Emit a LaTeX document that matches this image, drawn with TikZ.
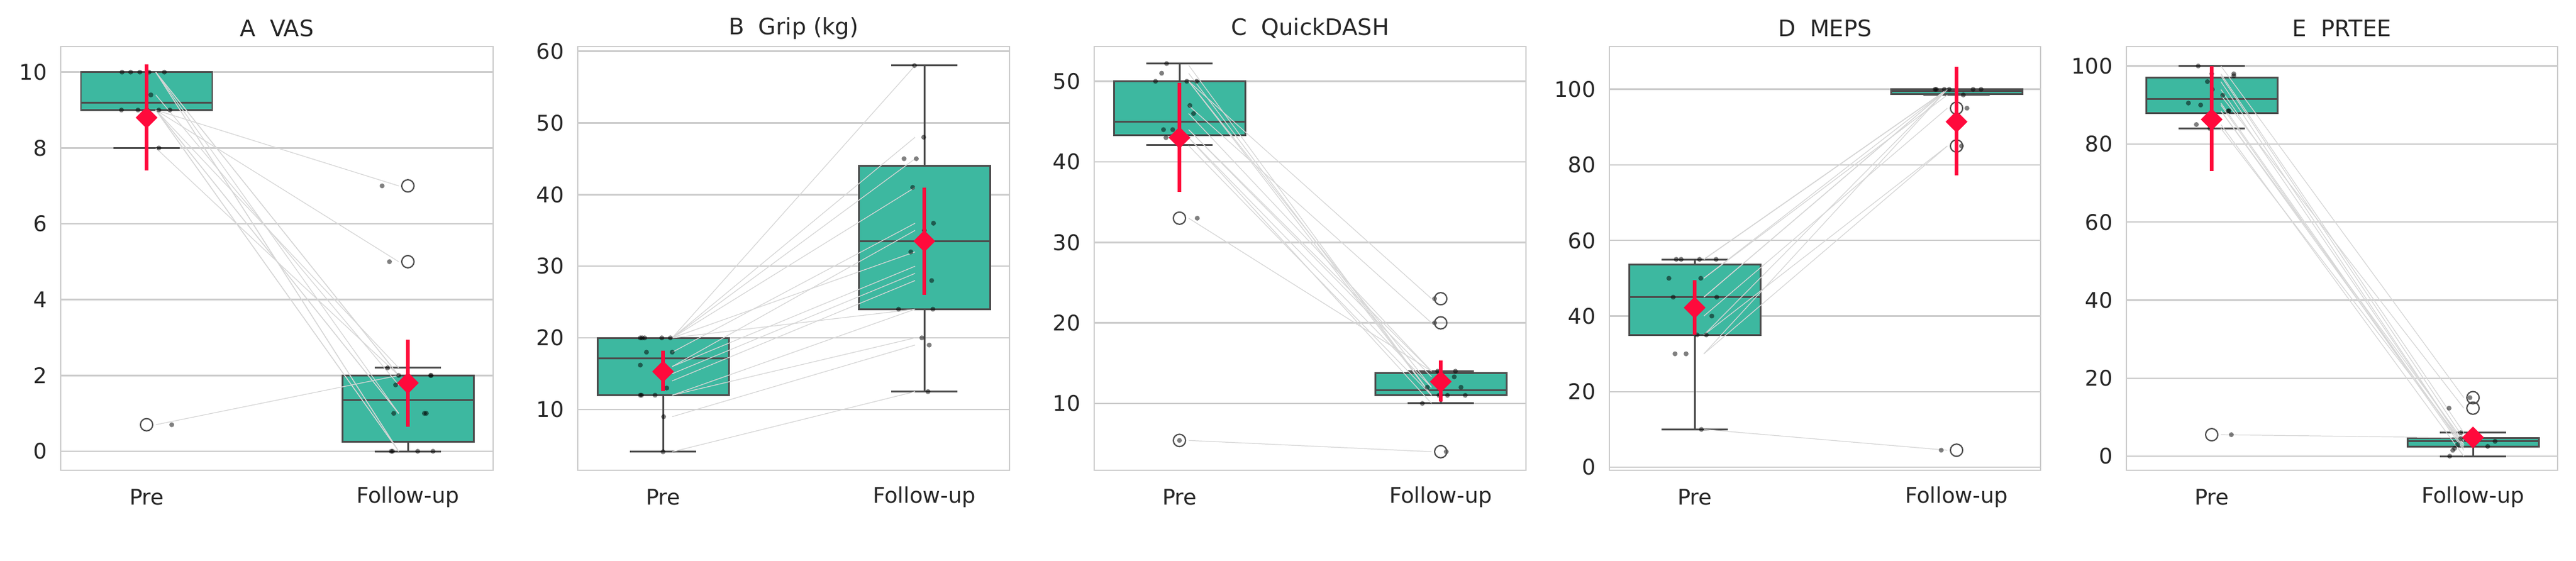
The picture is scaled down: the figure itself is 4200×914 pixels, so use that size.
\documentclass[tikz,border=0pt]{standalone}
\usepackage{fontspec}
\setmainfont{DejaVu Sans}
\usetikzlibrary{shapes.geometric}
\definecolor{myteal}{HTML}{3DB8A0}
\definecolor{edgec}{HTML}{4D4D4D}
\definecolor{gridc}{HTML}{CCCCCC}
\definecolor{redc}{HTML}{FF0A3C}
\definecolor{pairc}{HTML}{D6D6D6}
\tikzset{
  frame/.style={draw=gridc,line width=0.8pt},
  grid/.style={draw=gridc,line width=0.7pt},
  boxs/.style={fill=myteal,draw=edgec,line width=0.85pt},
  edge/.style={draw=edgec,line width=0.85pt},
  pair/.style={draw=pairc,line width=0.35pt},
  pt/.style={fill=black,opacity=0.5},
  outl/.style={draw=edgec,line width=0.6pt},
  ebar/.style={draw=redc,line width=1.5pt},
  mean/.style={diamond,fill=redc,inner sep=0pt,minimum width=0.36cm,minimum height=0.36cm},
  ttl/.style={font=\fontsize{10.5}{12}\selectfont,text=black!85},
  xl/.style={font=\fontsize{10}{12}\selectfont,text=black!85},
  yl/.style={font=\fontsize{10}{12}\selectfont,text=black!85,anchor=east},
}
\newcommand\mybox[6]{%
  \draw[boxs] (#1-107,#3) rectangle (#1+107,#5);
  \draw[edge] (#1-107,#4) -- (#1+107,#4);
  \draw[edge] (#1,#3) -- (#1,#2) (#1-54,#2) -- (#1+54,#2);
  \draw[edge] (#1,#5) -- (#1,#6) (#1-54,#6) -- (#1+54,#6);}
\begin{document}
\begin{tikzpicture}[x=0.01cm,y=-0.01cm]
\useasboundingbox (0,0) rectangle (4200,914);
% ---------------- A
\def\L{99}\def\R{804}\def\P{239}\def\F{665}
\draw[frame] (\L,76) rectangle (\R,767);
\node[ttl] (tA) at ({(\L+\R)/2},46) {A\ \ VAS};
\node[xl] (a1) at (\P,811) {Pre};
\node[xl] (a2) at (\F,811) {Follow-up};
\begin{scope}[shift={(0,736)},y=0.618cm]
\foreach \v in {0,2,...,10} {\draw[grid] (\L,\v) -- (\R,\v); \node[yl] (ya\v) at (\L-10,\v) {\v};}
\mybox{\P}{8}{9}{9.2}{10}{10}
\mybox{\F}{0}{0.25}{1.35}{2}{2.2}
\foreach \a/\b in {10/2,10/2,10/1,10/0,10/0,9.4/1.75,9/7,9/5,9/2.2,9/1,9/0,9/1,9/0,8/2,0.7/2}
  \draw[pair] (\P+15,\a) -- (\F-15,\b);
\foreach \v/\o in {10/-40,10/-26,10/-11,10/4,10/29,9.4/7,9/-41,9/-14,9/1,9/20,9/38,8/20,0.7/41}
  \fill[pt] (\P+\o,\v) circle (0.04cm);
\foreach \v/\o in {7/-42,5/-30,2.2/-33,2/-15,2/37,2/38,1.75/-20,1/-23,1/27,1/30,0/-27,0/-25,0/16,0/41}
  \fill[pt] (\F+\o,\v) circle (0.04cm);
\draw[outl] (\P,0.7) circle (0.1cm) (\F,7) circle (0.1cm) (\F,5) circle (0.1cm);
\draw[ebar] (\P,7.4) -- (\P,10.2) (\F,0.65) -- (\F,2.95);
\node[mean] (ma1) at (\P,8.8) {}; \node[mean] (ma2) at (\F,1.8) {};
\end{scope}
% ---------------- B
\def\L{942}\def\R{1646}\def\P{1081}\def\F{1507}
\draw[frame] (\L,76) rectangle (\R,767);
\node[ttl] (tB) at ({(\L+\R)/2},46) {B\ \ Grip (kg)};
\node[xl] (b1) at (\P,811) {Pre};
\node[xl] (b2) at (\F,811) {Follow-up};
\begin{scope}[shift={(0,784.8)},y=0.1168cm]
\foreach \v in {10,20,...,60} {\draw[grid] (\L,\v) -- (\R,\v); \node[yl] (yb\v) at (\L-10,\v) {\v};}
\mybox{\P}{4.1}{12}{17.1}{20}{20}
\mybox{\F}{12.5}{24}{33.5}{44}{58}
\foreach \a/\b in {20/58,20/48,20/45,20/41,18/36,16/35,20/32,16/30,15/29,14/28,20/24,12/24,12/20,9/19,4.1/12.5}
  \draw[pair] (\P+15,\a) -- (\F-15,\b);
\foreach \v/\o in {20/-37,20/-34,20/-30,20/-2,20/12,18/-27,18/15,16.2/-37,13/6,12/-37,12/-35,12/-13,9/1,4.1/0}
  \fill[pt] (\P+\o,\v) circle (0.04cm);
\foreach \v/\o in {58/-16,48/-1,45/-33,45/-13,41/-19,36/15,35/0,32/-22,28/12,24/-42,24/14,20/-4,19/8,12.5/6}
  \fill[pt] (\F+\o,\v) circle (0.04cm);
\draw[ebar] (\P,12.6) -- (\P,18.2) (\F,26) -- (\F,41);
\node[mean] (mb1) at (\P,15.3) {}; \node[mean] (mb2) at (\F,33.5) {};
\end{scope}
% ---------------- C
\def\L{1784}\def\R{2488}\def\P{1923}\def\F{2349}
\draw[frame] (\L,76) rectangle (\R,767);
\node[ttl] (tC) at ({(\L+\R)/2},46) {C\ \ QuickDASH};
\node[xl] (c1) at (\P,811) {Pre};
\node[xl] (c2) at (\F,811) {Follow-up};
\begin{scope}[shift={(0,789.25)},y=0.13125cm]
\foreach \v in {10,20,...,50} {\draw[grid] (\L,\v) -- (\R,\v); \node[yl] (yc\v) at (\L-10,\v) {\v};}
\mybox{\P}{42.1}{43.3}{45}{50}{52.2}
\mybox{\F}{10}{11}{11.6}{13.8}{14}
\foreach \a/\b in {50/23,47/20,46/14,44/14,44/13.3,50/12,43/12,42/11,52/11,51/11,50/11,43/10,33/14,5.4/4}
  \draw[pair] (\P+15,\a) -- (\F-15,\b);
\foreach \v/\o in {52.2/-21,51/-29,50/-39,50/12,50/28,47/17,46/23,44/-26,44/-11,43/-22,42/0,33/29,5.4/0}
  \fill[pt] (\P+\o,\v) circle (0.04cm);
\foreach \v/\o in {23/-10,20/-10,14/-5,14/24,13.3/22,12/-22,12/33,11/-3,11/0,11/11,11/40,10/-30,4/9}
  \fill[pt] (\F+\o,\v) circle (0.04cm);
\draw[outl] (\P,33) circle (0.1cm) (\P,5.4) circle (0.1cm) (\F,23) circle (0.1cm) (\F,20) circle (0.1cm) (\F,4) circle (0.1cm);
\draw[ebar] (\P,36.3) -- (\P,49.8) (\F,10.2) -- (\F,15.3);
\node[mean] (mc1) at (\P,43) {}; \node[mean] (mc2) at (\F,12.7) {};
\end{scope}
% ---------------- D
\def\L{2624}\def\R{3327}\def\P{2763}\def\F{3190}
\draw[frame] (\L,76) rectangle (\R,767);
\node[ttl] (tD) at ({(\L+\R)/2},46) {D\ \ MEPS};
\node[xl] (d1) at (\P,811) {Pre};
\node[xl] (d2) at (\F,811) {Follow-up};
\begin{scope}[shift={(0,762)},y=0.0616cm]
\foreach \v in {0,20,...,100} {\draw[grid] (\L,\v) -- (\R,\v); \node[yl] (yd\v) at (\L-10,\v) {\v};}
\mybox{\P}{10}{35}{45}{53.7}{55}
\mybox{\F}{98.5}{98.7}{99.5}{100}{100}
\foreach \a/\b in {55/100,55/100,55/100,50/100,50/98.5,45/100,45/100,40/95,35/100,35/85,30/100,30/85,10/4.5}
  \draw[pair] (\P+15,\a) -- (\F-15,\b);
\foreach \v/\o in {55/-30,55/-22,55/8,55/35,50/-42,50/10,45/-35,45/36,40/28,35/4,35/19,30/-32,30/-14,10/11}
  \fill[pt] (\P+\o,\v) circle (0.04cm);
\foreach \v/\o in {100/-35,100/-33,100/-20,100/-12,100/27,100/40,98.5/11,95/17,85/8,4.5/-25}
  \fill[pt] (\F+\o,\v) circle (0.04cm);
\draw[outl] (\F,95) circle (0.1cm) (\F,85) circle (0.1cm) (\F,4.5) circle (0.1cm);
\draw[ebar] (\P,35) -- (\P,49.5) (\F,77.3) -- (\F,106);
\node[mean] (md1) at (\P,42.2) {}; \node[mean] (md2) at (\F,91.4) {};
\end{scope}
% ---------------- E
\def\L{3467}\def\R{4170}\def\P{3606}\def\F{4032}
\draw[frame] (\L,76) rectangle (\R,767);
\node[ttl] (tE) at ({(\L+\R)/2},46) {E\ \ PRTEE};
\node[xl] (e1) at (\P,811) {Pre};
\node[xl] (e2) at (\F,811) {Follow-up};
\begin{scope}[shift={(0,744)},y=0.0636cm]
\foreach \v in {0,20,...,100} {\draw[grid] (\L,\v) -- (\R,\v); \node[yl] (ye\v) at (\L-10,\v) {\v};}
\mybox{\P}{84}{88}{91.5}{97}{100}
\mybox{\F}{0}{2.5}{3.8}{4.7}{6}
\foreach \a/\b in {100/15,98/6,97.5/4.5,96/3,94/3,92.5/12.3,90.5/2,90/1.5,88.5/3.8,88.5/2.5,85/0,84/3,5.5/4.7}
  \draw[pair] (\P+15,\a) -- (\F-15,\b);
\foreach \v/\o in {100/-22,98/0,98/36,97.5/36,96/-7,94/1,92.5/18,90.5/-38,90/-18,88.5/27,88.5/28,85/-25,84/-3,5.5/32}
  \fill[pt] (\P+\o,\v) circle (0.04cm);
\foreach \v/\o in {15/-5,12.3/-39,6/-20,4.5/-20,3/-25,3/0,3.8/36,2.5/24,2/-30,1.5/-33,0/-38}
  \fill[pt] (\F+\o,\v) circle (0.04cm);
\draw[outl] (\P,5.5) circle (0.1cm) (\F,15) circle (0.1cm) (\F,12.3) circle (0.1cm);
\draw[ebar] (\P,73) -- (\P,100) (\F,3.5) -- (\F,6);
\node[mean] (me1) at (\P,86.3) {}; \node[mean] (me2) at (\F,4.8) {};
\end{scope}
\end{tikzpicture}
\end{document}
